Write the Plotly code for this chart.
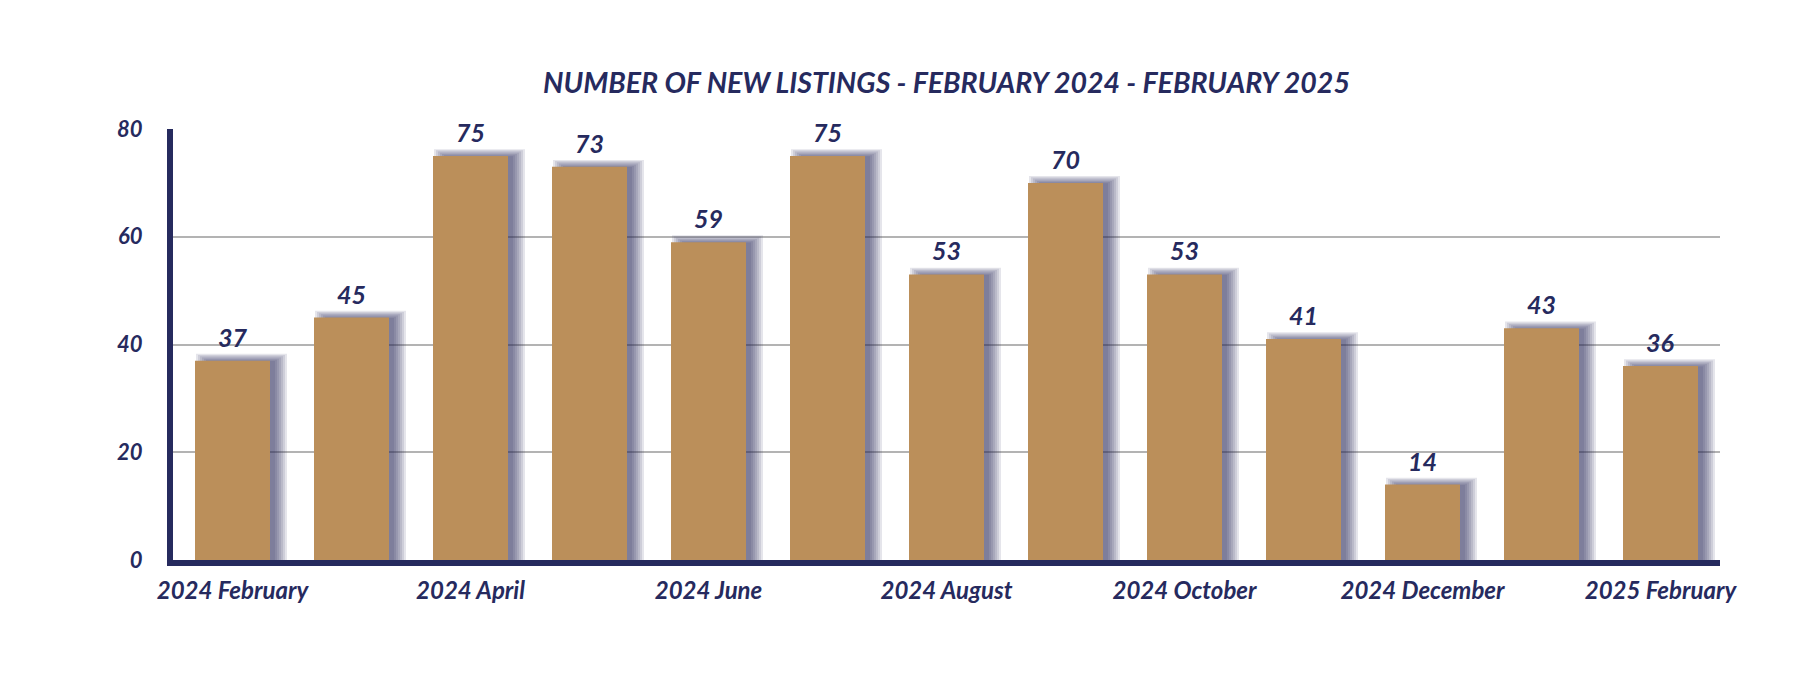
import plotly.graph_objects as go

categories = ["2024 February", "2024 March", "2024 April", "2024 May", "2024 June",
              "2024 July", "2024 August", "2024 September", "2024 October",
              "2024 November", "2024 December", "2025 January", "2025 February"]
values = [37, 45, 75, 73, 59, 75, 53, 70, 53, 41, 14, 43, 36]
tick_labels = categories[::2]
y_ticks = [0, 20, 40, 60, 80]

NAVY = "#262a5e"
GOLD = "#bb8f5a"
FONT = "Lato"

W, H = 1816, 676
L, R, T, B = 173, 96, 129, 116
plot_w = W - L - R
cat_px = plot_w / len(categories)
bar_px = 75
bar_w = bar_px / cat_px
px_y = 80 / (H - T - B)

fig = go.Figure()

# blurred drop shadow layers (shifted right and up, expanded progressively)
shift_x = 9 / cat_px
for e in [-4, -2, 0, 2, 4, 6, 8]:
    w = (bar_px + 2 * e) / cat_px
    fig.add_trace(go.Bar(
        x=categories, y=[v + (2 + 0.6 * e) * px_y for v in values],
        width=w, offset=-w / 2 + shift_x,
        marker=dict(color="rgba(38,42,94,0.12)", line=dict(width=0)),
        hoverinfo="skip", showlegend=False,
    ))

fig.add_trace(go.Bar(
    x=categories, y=values, width=bar_w,
    marker=dict(color=GOLD, line=dict(width=0)),
    showlegend=False,
))

for c, v in zip(categories, values):
    fig.add_annotation(x=c, y=v, text=str(v), showarrow=False, yanchor="bottom",
                       yshift=7, font=dict(family=FONT, size=25, color=NAVY,
                                           weight="bold", style="italic"))

fig.update_layout(
    width=W, height=H, barmode="overlay",
    margin=dict(l=L, r=R, t=T, b=B),
    paper_bgcolor="white", plot_bgcolor="white",
    title=dict(text="NUMBER OF NEW LISTINGS - FEBRUARY 2024 - FEBRUARY 2025",
               x=0.5, xref="paper", y=1 - 83 / H, yanchor="middle",
               font=dict(family=FONT, size=28.5, color=NAVY, weight="bold", style="italic")),
)
fig.update_xaxes(
    tickmode="array", tickvals=tick_labels, ticktext=tick_labels,
    showline=True, linewidth=6, linecolor=NAVY, showgrid=False, ticks="",
    ticklabelstandoff=4,
    tickfont=dict(family=FONT, size=24, color=NAVY, weight="bold", style="italic"),
)
fig.update_yaxes(
    range=[0, 80], tickvals=y_ticks, showline=True, linewidth=6, linecolor=NAVY,
    showgrid=True, gridcolor="#b3b3b3", gridwidth=2, zeroline=False, ticks="",
    ticklabelstandoff=20,
    tickfont=dict(family=FONT, size=22, color=NAVY, weight="bold", style="italic"),
)

fig.write_html("out.html")
